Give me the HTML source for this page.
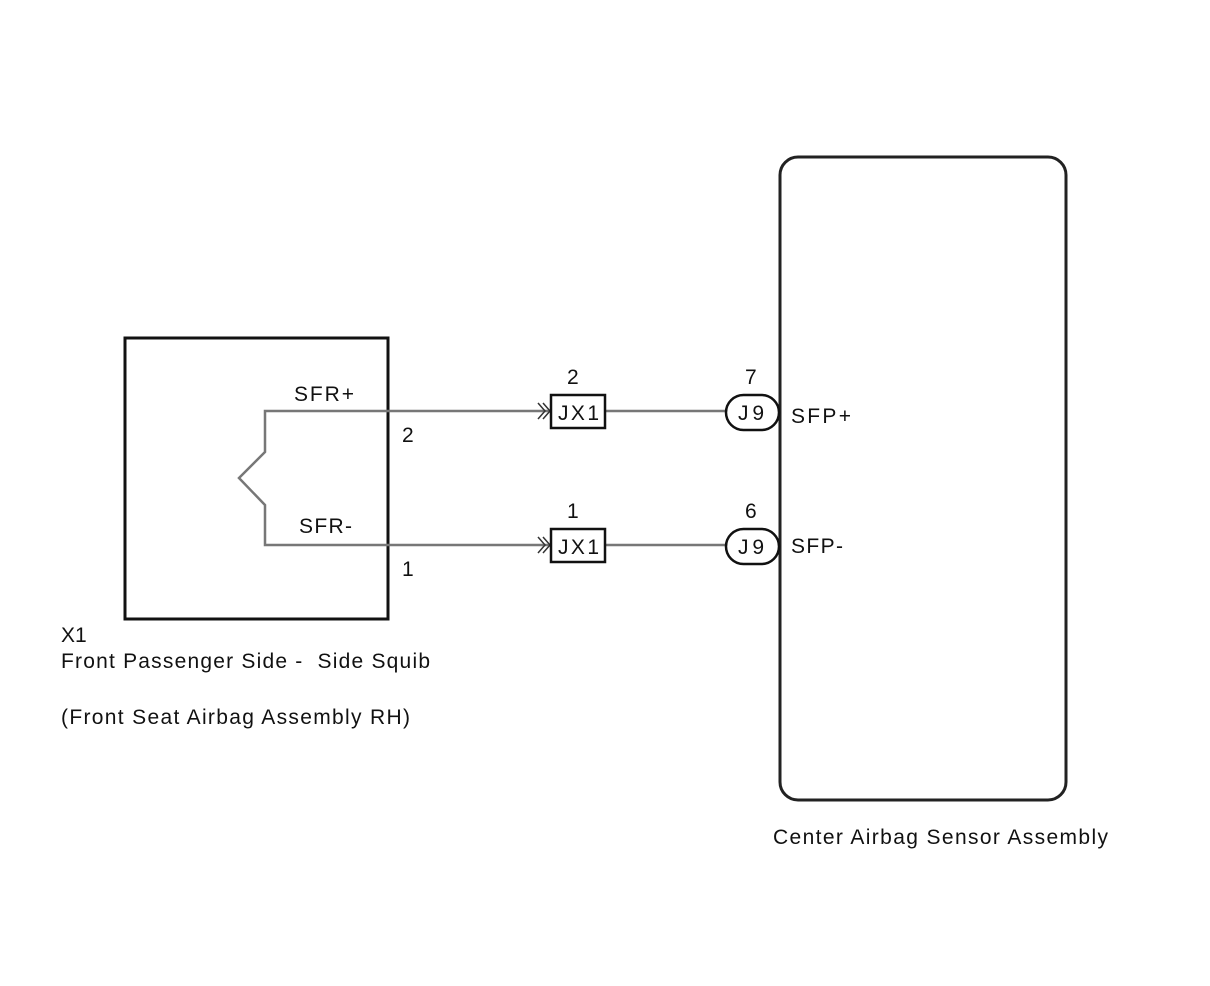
<!DOCTYPE html>
<html><head><style>
html,body{margin:0;padding:0;background:#fff;}
svg{display:block;}
text{font-family:"Liberation Sans",sans-serif;font-size:21px;fill:#111;}
</style></head><body>
<svg width="1210" height="986" viewBox="0 0 1210 986">
<rect x="125" y="338" width="263" height="281" fill="none" stroke="#111" stroke-width="3"/>
<rect x="780" y="157" width="286" height="643" rx="18" fill="none" stroke="#222" stroke-width="3"/>
<polyline points="551,411 265,411 265,452 239,478 265,505 265,545 551,545" fill="none" stroke="#777" stroke-width="2.5"/>
<line x1="605" y1="411" x2="726" y2="411" stroke="#777" stroke-width="2.5"/>
<line x1="605" y1="545" x2="726" y2="545" stroke="#777" stroke-width="2.5"/>
<g fill="none" stroke="#333" stroke-width="1.5">
<polyline points="538,403 545,411 538,419"/><polyline points="543,403 550,411 543,419"/>
<polyline points="538,537 545,545 538,553"/><polyline points="543,537 550,545 543,553"/>
</g>
<rect x="551" y="395" width="54" height="33" fill="#fff" stroke="#111" stroke-width="2.5"/>
<rect x="551" y="529" width="54" height="33" fill="#fff" stroke="#111" stroke-width="2.5"/>
<rect x="726" y="395" width="53" height="35" rx="17.5" fill="#fff" stroke="#111" stroke-width="2.5"/>
<rect x="726" y="529" width="53" height="35" rx="17.5" fill="#fff" stroke="#111" stroke-width="2.5"/>
<text x="558" y="420" textLength="41">JX1</text>
<text x="558" y="554" textLength="41">JX1</text>
<text x="738" y="420" textLength="26">J9</text>
<text x="738" y="554" textLength="26">J9</text>
<text x="567" y="384">2</text>
<text x="567" y="518">1</text>
<text x="745" y="384">7</text>
<text x="745" y="518">6</text>
<text x="791" y="423" textLength="60">SFP+</text>
<text x="791" y="553" textLength="52">SFP-</text>
<text x="294" y="401" textLength="60">SFR+</text>
<text x="299" y="533" textLength="53">SFR-</text>
<text x="402" y="442">2</text>
<text x="402" y="576">1</text>
<text x="61" y="642">X1</text>
<text x="61" y="668" textLength="369">Front Passenger Side -&#160; Side Squib</text>
<text x="61" y="724" textLength="349">(Front Seat Airbag Assembly RH)</text>
<text x="773" y="844" textLength="335">Center Airbag Sensor Assembly</text>
</svg>
</body></html>
